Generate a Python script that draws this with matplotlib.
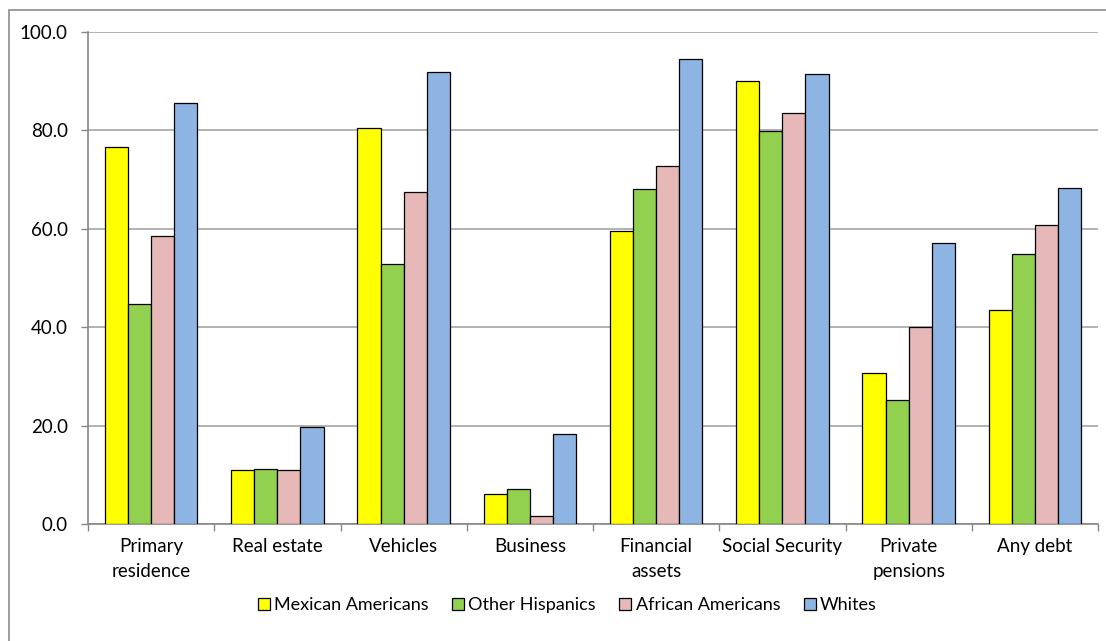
import numpy as np
import matplotlib
matplotlib.use("Agg")
import matplotlib.pyplot as plt
from matplotlib.patches import Rectangle

plt.rcParams['font.family'] = ['Lato', 'DejaVu Sans']

categories = ["Primary\nresidence", "Real estate", "Vehicles", "Business",
              "Financial\nassets", "Social Security", "Private\npensions", "Any debt"]
series_names = ["Mexican Americans", "Other Hispanics", "African Americans", "Whites"]
mexican_americans = [76.6, 10.9, 80.4, 6.0, 59.5, 90.0, 30.7, 43.5]
other_hispanics = [44.8, 11.1, 52.9, 7.1, 68.0, 79.8, 25.3, 54.9]
african_americans = [58.5, 10.9, 67.4, 1.7, 72.7, 83.6, 40.1, 60.7]
whites = [85.6, 19.8, 91.9, 18.2, 94.5, 91.4, 57.1, 68.3]
colors = ["#FFFF00", "#92D050", "#E6B9B8", "#8DB4E2"]

fs = 13.5

fig = plt.figure(figsize=(11.06, 6.41), dpi=100)
ax = fig.add_axes([88 / 1106, 1 - 524 / 641, (1098 - 88) / 1106, (524 - 32) / 641])

x = np.arange(len(categories))
bar_w = 0.183
data = [mexican_americans, other_hispanics, african_americans, whites]
for i, (vals, name, col) in enumerate(zip(data, series_names, colors)):
    ax.bar(x + (i - 1.5) * bar_w, vals, width=bar_w, color=col,
           edgecolor="black", linewidth=0.9, label=name, zorder=3)

ax.set_xlim(-0.5, len(categories) - 0.5)
ax.set_ylim(0, 100)
ax.set_yticks(np.arange(0, 101, 20))
ax.set_yticklabels([f"{v:.1f}" for v in np.arange(0, 101, 20)], fontsize=fs)
ax.yaxis.grid(True, color="#A6A6A6", linewidth=1.2, zorder=0)

ax.set_xticks(x)
ax.set_xticklabels(categories, fontsize=fs, linespacing=1.6)
ax.set_xticks(np.arange(-0.5, len(categories)), minor=True)
ax.tick_params(axis="x", which="major", length=0, pad=10)
ax.tick_params(axis="x", which="minor", length=5, color="#868686", width=1)
ax.tick_params(axis="y", length=5, color="#868686", width=1, pad=9.5)

for side in ["top", "right"]:
    ax.spines[side].set_visible(False)
for side in ["left", "bottom"]:
    ax.spines[side].set_color("#868686")
    ax.spines[side].set_linewidth(1.2)

leg = fig.legend(loc="center", bbox_to_anchor=(0.513, 1 - 605 / 641), ncol=4,
                 frameon=False, fontsize=13, handlelength=0.65, handleheight=0.65,
                 handletextpad=0.25, columnspacing=1.3)

# chart area border
fig.patches.append(Rectangle((9 / 1106, -0.05), 1.2, 1 - 10 / 641 + 0.05,
                             transform=fig.transFigure, fill=False,
                             edgecolor="#8C8C8C", linewidth=1.2))

fig.savefig("out.png", dpi=100)
